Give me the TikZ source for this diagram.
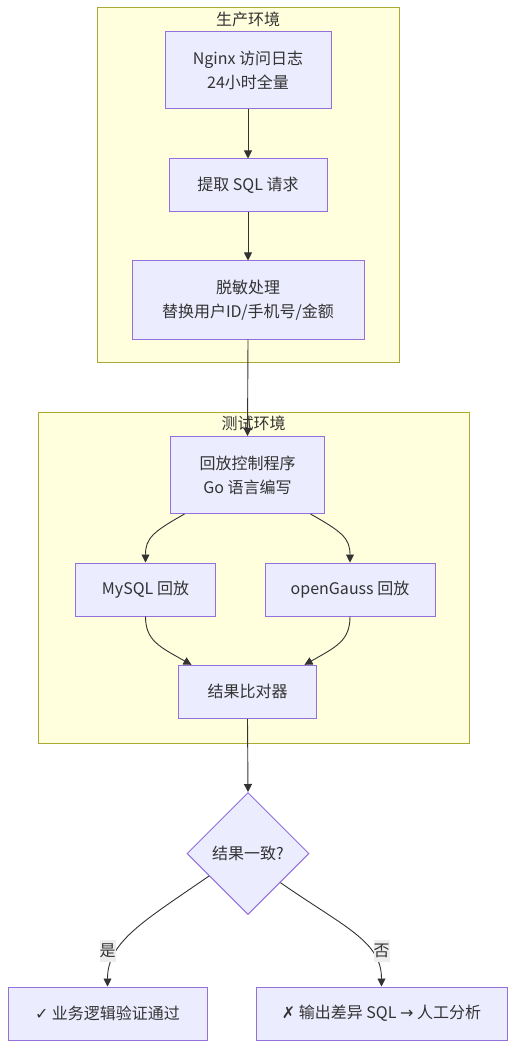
\documentclass[tikz,border=0pt]{standalone}
\usepackage{fontspec}
\setmainfont{Noto Sans CJK SC}
\newfontfamily\symfont{DejaVu Sans}
\usetikzlibrary{arrows.meta,shapes.geometric,calc}
\definecolor{nfill}{HTML}{ECECFF}
\definecolor{nline}{HTML}{9370DB}
\definecolor{cfill}{HTML}{FFFFDE}
\definecolor{cline}{HTML}{AAAA33}
\definecolor{eline}{HTML}{333333}
\definecolor{ntext}{HTML}{333333}
\definecolor{lblfill}{HTML}{EDEDED}
\begin{document}
\begin{tikzpicture}[x=1pt,y=-1pt,
  box/.style={draw=nline, fill=nfill, line width=1pt, inner sep=0pt, align=center,
    font=\fontsize{16}{24}\selectfont, text=ntext},
  cluster/.style={draw=cline, fill=cfill, line width=1pt},
  ctitle/.style={font=\fontsize{16}{20}\selectfont, text=ntext, inner sep=0pt},
  arr/.style={draw=eline, line width=0.9pt, -{Triangle[length=8pt,width=8pt]}},
  lbl/.style={fill=lblfill, inner sep=0pt, minimum height=22pt, font=\fontsize{16}{20}\selectfont, text=ntext}]
\useasboundingbox (0,0) rectangle (530,1064);
\fill[white] (0,0) rectangle (530,1064);

% clusters
\draw[cluster] (97,8) rectangle (399,362);
\node[ctitle] (t1) at (248,19) {生产环境};
\draw[cluster] (38,412) rectangle (469,743);
\node[ctitle] (t2) at (253.5,423) {测试环境};

% nodes
\node[box, minimum width=166pt, minimum height=77pt] (nginx) at (248,70.5) {Nginx 访问日志\\24小时全量};
\node[box, minimum width=158pt, minimum height=53pt] (extract) at (248,185.5) {提取 SQL 请求};
\node[box, minimum width=232pt, minimum height=78pt] (mask) at (248,300) {脱敏处理\\替换用户ID/手机号/金额};
\node[box, minimum width=154pt, minimum height=77pt] (ctrl) at (247.5,475) {回放控制程序\\Go 语言编写};
\node[box, minimum width=140pt, minimum height=53pt] (mysql) at (145.5,589.5) {MySQL 回放};
\node[box, minimum width=170pt, minimum height=53pt] (og) at (350,589.5) {openGauss 回放};
\node[box, minimum width=138pt, minimum height=53pt] (cmp) at (247.5,691.8) {结果比对器};
\node[box, diamond, aspect=1, minimum width=122pt, minimum height=122pt] (dec) at (248,853.5) {结果一致?};
\node[box, minimum width=199pt, minimum height=53pt] (yes) at (107.5,1013.5) {{\symfont ✓} 业务逻辑验证通过};
\node[box, minimum width=251pt, minimum height=53pt] (no) at (381.5,1013.5) {{\symfont ✗} 输出差异 SQL {\symfont →} 人工分析};

% edges
\draw[arr] (nginx.south) -- (extract.north);
\draw[arr] (extract.south) -- (mask.north);
\draw[arr] (mask.south) -- (ctrl.north);
\draw[arr] ($(ctrl.south)+(-63,0)$) .. controls ($(ctrl.south)+(-95,18)$) and ($(mysql.north)+(0,-24)$) .. (mysql.north);
\draw[arr] ($(ctrl.south)+(63,0)$) .. controls ($(ctrl.south)+(95,18)$) and ($(og.north)+(0,-24)$) .. (og.north);
\draw[arr] (mysql.south) .. controls ($(mysql.south)+(0,24)$) and ($(cmp.north)+(-88,-18)$) .. ($(cmp.north)+(-56,0)$);
\draw[arr] (og.south) .. controls ($(og.south)+(0,24)$) and ($(cmp.north)+(89,-18)$) .. ($(cmp.north)+(57,0)$);
\draw[arr] (cmp.south) -- (dec.north);
\draw[arr] (dec.210) .. controls ($(dec.210)+(-65,45)$) and ($(yes.north)+(0,-45)$) .. (yes.north);
\draw[arr] (dec.318) .. controls ($(dec.318)+(65,45)$) and ($(no.north)+(0,-45)$) .. (no.north);

% edge labels
\node[lbl] (lyes) at (107.5,951) {是};
\node[lbl] (lno) at (381.5,951) {否};
\end{tikzpicture}
\end{document}
